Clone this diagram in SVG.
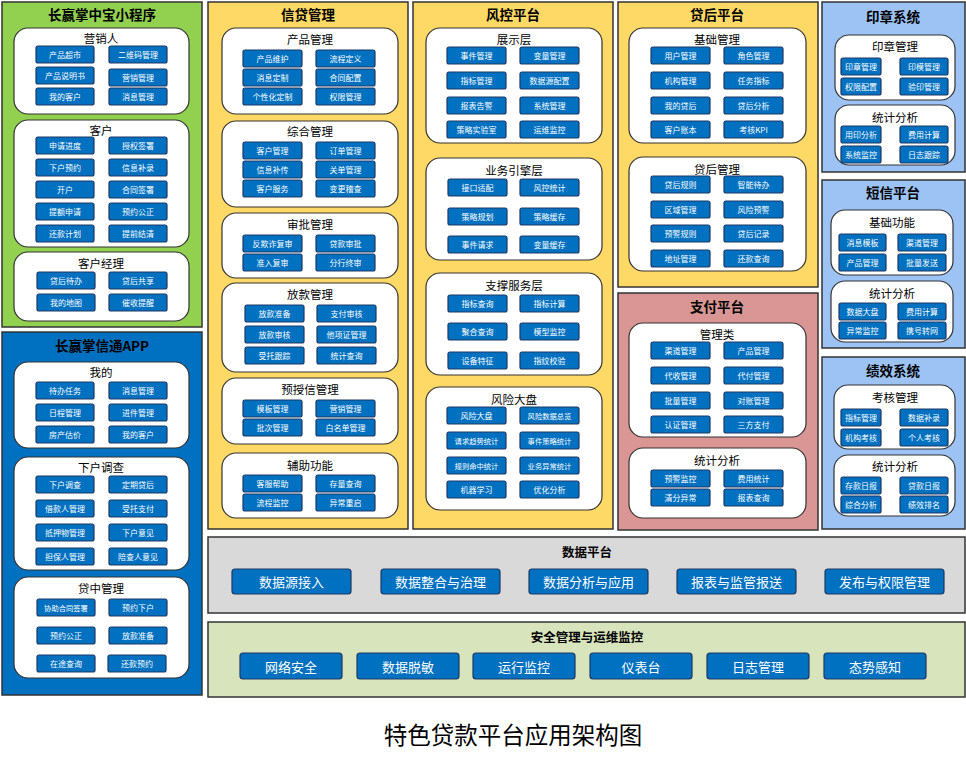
<svg xmlns="http://www.w3.org/2000/svg" width="966" height="759" viewBox="0 0 966 759">
<style>
text{font-family:"Noto Sans CJK SC","Microsoft YaHei",sans-serif;text-anchor:middle;dominant-baseline:central}
.pan{stroke:#333;stroke-width:1.5}
.pt{font-size:13.5px;font-weight:bold;fill:#000}
.sp{fill:#fff;stroke:#333;stroke-width:1.2}
.st{font-size:11.5px;fill:#000}
.b{fill:#0070C0;stroke:#1F3864;stroke-width:1.2}
.bt{font-size:8px;fill:#fff}
.bs{font-size:7.3px;fill:#fff}
.bl{font-size:13px;fill:#fff}
</style>
<rect width="966" height="759" fill="#fff"/>
<g id="connectors"/>

<!-- 长赢掌中宝小程序 -->
<g id="p-miniapp">
<rect class="pan" x="2" y="2" width="200" height="325" fill="#92D050"/>
<text class="pt" x="102" y="14">长赢掌中宝小程序</text>
<g id="s-yxr"><rect class="sp" x="14" y="28" width="175" height="86" rx="14"/><text class="st" x="101" y="38">营销人</text>
<g id="m1"><rect class="b" x="36" y="46" width="58" height="17" rx="2"/><text class="bt" x="65" y="54.5">产品超市</text></g>
<g id="m2"><rect class="b" x="109" y="46" width="58" height="17" rx="2"/><text class="bt" x="138" y="54.5">二维码管理</text></g>
<g id="m3"><rect class="b" x="36" y="67" width="58" height="17" rx="2"/><text class="bt" x="65" y="75.5">产品说明书</text></g>
<g id="m4"><rect class="b" x="109" y="69" width="58" height="17" rx="2"/><text class="bt" x="138" y="77.5">营销管理</text></g>
<g id="m5"><rect class="b" x="36" y="88" width="58" height="17" rx="2"/><text class="bt" x="65" y="96.5">我的客户</text></g>
<g id="m6"><rect class="b" x="109" y="88" width="58" height="17" rx="2"/><text class="bt" x="138" y="96.5">消息管理</text></g>
</g>
<g id="s-kh"><rect class="sp" x="14" y="120" width="175" height="127" rx="14"/><text class="st" x="101" y="130">客户</text>
<g id="m7"><rect class="b" x="36" y="137" width="58" height="17" rx="2"/><text class="bt" x="65" y="145.5">申请进度</text></g>
<g id="m8"><rect class="b" x="109" y="137" width="58" height="17" rx="2"/><text class="bt" x="138" y="145.5">授权签署</text></g>
<g id="m9"><rect class="b" x="36" y="159" width="58" height="17" rx="2"/><text class="bt" x="65" y="167.5">下户预约</text></g>
<g id="m10"><rect class="b" x="109" y="159" width="58" height="17" rx="2"/><text class="bt" x="138" y="167.5">信息补录</text></g>
<g id="m11"><rect class="b" x="36" y="181" width="58" height="17" rx="2"/><text class="bt" x="65" y="189.5">开户</text></g>
<g id="m12"><rect class="b" x="109" y="181" width="58" height="17" rx="2"/><text class="bt" x="138" y="189.5">合同签署</text></g>
<g id="m13"><rect class="b" x="36" y="203" width="58" height="17" rx="2"/><text class="bt" x="65" y="211.5">提额申请</text></g>
<g id="m14"><rect class="b" x="109" y="203" width="58" height="17" rx="2"/><text class="bt" x="138" y="211.5">预约公正</text></g>
<g id="m15"><rect class="b" x="36" y="225" width="58" height="17" rx="2"/><text class="bt" x="65" y="233.5">还款计划</text></g>
<g id="m16"><rect class="b" x="109" y="225" width="58" height="17" rx="2"/><text class="bt" x="138" y="233.5">提前结清</text></g>
</g>
<g id="s-khjl"><rect class="sp" x="14" y="252" width="175" height="69" rx="14"/><text class="st" x="101" y="263">客户经理</text>
<g id="m17"><rect class="b" x="37" y="272" width="58" height="17" rx="2"/><text class="bt" x="66" y="280.5">贷后待办</text></g>
<g id="m18"><rect class="b" x="109" y="272" width="58" height="17" rx="2"/><text class="bt" x="138" y="280.5">贷后共享</text></g>
<g id="m19"><rect class="b" x="37" y="294" width="58" height="17" rx="2"/><text class="bt" x="66" y="302.5">我的地图</text></g>
<g id="m20"><rect class="b" x="109" y="294" width="58" height="17" rx="2"/><text class="bt" x="138" y="302.5">催收提醒</text></g>
</g>
</g>

<!-- 长赢掌信通APP -->
<g id="p-app">
<rect class="pan" x="2" y="332" width="200" height="363" fill="#0070C0" stroke="#1F3864"/>
<text class="pt" x="102" y="345">长赢掌信通APP</text>
<g id="s-wd"><rect class="sp" x="14" y="362" width="175" height="86" rx="14"/><text class="st" x="101" y="372">我的</text>
<g id="a1"><rect class="b" x="36" y="382" width="58" height="17" rx="2"/><text class="bt" x="65" y="390.5">待办任务</text></g>
<g id="a2"><rect class="b" x="109" y="382" width="58" height="17" rx="2"/><text class="bt" x="138" y="390.5">消息管理</text></g>
<g id="a3"><rect class="b" x="36" y="404" width="58" height="17" rx="2"/><text class="bt" x="65" y="412.5">日程管理</text></g>
<g id="a4"><rect class="b" x="109" y="404" width="58" height="17" rx="2"/><text class="bt" x="138" y="412.5">进件管理</text></g>
<g id="a5"><rect class="b" x="36" y="426" width="58" height="17" rx="2"/><text class="bt" x="65" y="434.5">房产估价</text></g>
<g id="a6"><rect class="b" x="109" y="426" width="58" height="17" rx="2"/><text class="bt" x="138" y="434.5">我的客户</text></g>
</g>
<g id="s-xhdc"><rect class="sp" x="14" y="457" width="175" height="113" rx="14"/><text class="st" x="101" y="467">下户调查</text>
<g id="a7"><rect class="b" x="36" y="476" width="58" height="17" rx="2"/><text class="bt" x="65" y="484.5">下户调查</text></g>
<g id="a8"><rect class="b" x="109" y="476" width="58" height="17" rx="2"/><text class="bt" x="138" y="484.5">定期贷后</text></g>
<g id="a9"><rect class="b" x="36" y="500" width="58" height="17" rx="2"/><text class="bt" x="65" y="508.5">借款人管理</text></g>
<g id="a10"><rect class="b" x="109" y="500" width="58" height="17" rx="2"/><text class="bt" x="138" y="508.5">受托支付</text></g>
<g id="a11"><rect class="b" x="36" y="524" width="58" height="17" rx="2"/><text class="bt" x="65" y="532.5">抵押物管理</text></g>
<g id="a12"><rect class="b" x="109" y="524" width="58" height="17" rx="2"/><text class="bt" x="138" y="532.5">下户意见</text></g>
<g id="a13"><rect class="b" x="36" y="548" width="58" height="17" rx="2"/><text class="bt" x="65" y="556.5">担保人管理</text></g>
<g id="a14"><rect class="b" x="109" y="548" width="58" height="17" rx="2"/><text class="bt" x="138" y="556.5">陪查人意见</text></g>
</g>
<g id="s-dzgl"><rect class="sp" x="14" y="577" width="175" height="101" rx="14"/><text class="st" x="101" y="588">贷中管理</text>
<g id="a15"><rect class="b" x="37" y="599" width="58" height="17" rx="2"/><text class="bs" x="66" y="607.5">协助合同签署</text></g>
<g id="a16"><rect class="b" x="109" y="599" width="58" height="17" rx="2"/><text class="bt" x="138" y="607.5">预约下户</text></g>
<g id="a17"><rect class="b" x="37" y="627" width="58" height="17" rx="2"/><text class="bt" x="66" y="635.5">预约公正</text></g>
<g id="a18"><rect class="b" x="109" y="627" width="58" height="17" rx="2"/><text class="bt" x="138" y="635.5">放款准备</text></g>
<g id="a19"><rect class="b" x="37" y="655" width="58" height="17" rx="2"/><text class="bt" x="66" y="663.5">在途查询</text></g>
<g id="a20"><rect class="b" x="108" y="655" width="58" height="17" rx="2"/><text class="bt" x="137" y="663.5">还款预约</text></g>
</g>
</g>

<!-- 信贷管理 -->
<g id="p-xdgl">
<rect class="pan" x="208" y="2" width="200" height="527" fill="#FFD966"/>
<text class="pt" x="308" y="14">信贷管理</text>
<g id="s-cpgl"><rect class="sp" x="222" y="28" width="176" height="86" rx="14"/><text class="st" x="310" y="39">产品管理</text>
<g id="x1"><rect class="b" x="243" y="50" width="59" height="17" rx="2"/><text class="bt" x="272.5" y="58.5">产品维护</text></g>
<g id="x2"><rect class="b" x="316" y="50" width="59" height="17" rx="2"/><text class="bt" x="345.5" y="58.5">流程定义</text></g>
<g id="x3"><rect class="b" x="243" y="69" width="59" height="17" rx="2"/><text class="bt" x="272.5" y="77.5">消息定制</text></g>
<g id="x4"><rect class="b" x="316" y="69" width="59" height="17" rx="2"/><text class="bt" x="345.5" y="77.5">合同配置</text></g>
<g id="x5"><rect class="b" x="243" y="88" width="59" height="17" rx="2"/><text class="bt" x="272.5" y="96.5">个性化定制</text></g>
<g id="x6"><rect class="b" x="316" y="88" width="59" height="17" rx="2"/><text class="bt" x="345.5" y="96.5">权限管理</text></g>
</g>
<g id="s-zhgl"><rect class="sp" x="222" y="121" width="176" height="86" rx="14"/><text class="st" x="310" y="131">综合管理</text>
<g id="x7"><rect class="b" x="243" y="142" width="59" height="17" rx="2"/><text class="bt" x="272.5" y="150.5">客户管理</text></g>
<g id="x8"><rect class="b" x="316" y="142" width="59" height="17" rx="2"/><text class="bt" x="345.5" y="150.5">订单管理</text></g>
<g id="x9"><rect class="b" x="243" y="161" width="59" height="17" rx="2"/><text class="bt" x="272.5" y="169.5">信息补传</text></g>
<g id="x10"><rect class="b" x="316" y="161" width="59" height="17" rx="2"/><text class="bt" x="345.5" y="169.5">关单管理</text></g>
<g id="x11"><rect class="b" x="243" y="180" width="59" height="17" rx="2"/><text class="bt" x="272.5" y="188.5">客户服务</text></g>
<g id="x12"><rect class="b" x="316" y="180" width="59" height="17" rx="2"/><text class="bt" x="345.5" y="188.5">变更稽查</text></g>
</g>
<g id="s-spgl"><rect class="sp" x="222" y="213" width="176" height="65" rx="14"/><text class="st" x="310" y="224">审批管理</text>
<g id="x13"><rect class="b" x="243" y="235" width="59" height="17" rx="2"/><text class="bt" x="272.5" y="243.5">反欺诈复审</text></g>
<g id="x14"><rect class="b" x="316" y="235" width="59" height="17" rx="2"/><text class="bt" x="345.5" y="243.5">贷款审批</text></g>
<g id="x15"><rect class="b" x="243" y="254" width="59" height="17" rx="2"/><text class="bt" x="272.5" y="262.5">准入复审</text></g>
<g id="x16"><rect class="b" x="316" y="254" width="59" height="17" rx="2"/><text class="bt" x="345.5" y="262.5">分行终审</text></g>
</g>
<g id="s-fkgl"><rect class="sp" x="222" y="283" width="176" height="89" rx="14"/><text class="st" x="310" y="294">放款管理</text>
<g id="x17"><rect class="b" x="245" y="305" width="59" height="17" rx="2"/><text class="bt" x="274.5" y="313.5">放款准备</text></g>
<g id="x18"><rect class="b" x="317" y="305" width="59" height="17" rx="2"/><text class="bt" x="346.5" y="313.5">支付审核</text></g>
<g id="x19"><rect class="b" x="245" y="326" width="59" height="17" rx="2"/><text class="bt" x="274.5" y="334.5">放款审核</text></g>
<g id="x20"><rect class="b" x="317" y="326" width="59" height="17" rx="2"/><text class="bt" x="346.5" y="334.5">他项证管理</text></g>
<g id="x21"><rect class="b" x="245" y="347" width="59" height="17" rx="2"/><text class="bt" x="274.5" y="355.5">受托跟踪</text></g>
<g id="x22"><rect class="b" x="317" y="347" width="59" height="17" rx="2"/><text class="bt" x="346.5" y="355.5">统计查询</text></g>
</g>
<g id="s-ysx"><rect class="sp" x="222" y="378" width="176" height="66" rx="14"/><text class="st" x="310" y="389">预授信管理</text>
<g id="x23"><rect class="b" x="243" y="400" width="59" height="17" rx="2"/><text class="bt" x="272.5" y="408.5">模板管理</text></g>
<g id="x24"><rect class="b" x="316" y="400" width="59" height="17" rx="2"/><text class="bt" x="345.5" y="408.5">营销管理</text></g>
<g id="x25"><rect class="b" x="243" y="419" width="59" height="17" rx="2"/><text class="bt" x="272.5" y="427.5">批次管理</text></g>
<g id="x26"><rect class="b" x="316" y="419" width="59" height="17" rx="2"/><text class="bt" x="345.5" y="427.5">白名单管理</text></g>
</g>
<g id="s-fzgn"><rect class="sp" x="222" y="453" width="176" height="65" rx="14"/><text class="st" x="310" y="465">辅助功能</text>
<g id="x27"><rect class="b" x="243" y="475" width="59" height="17" rx="2"/><text class="bt" x="272.5" y="483.5">客服帮助</text></g>
<g id="x28"><rect class="b" x="316" y="475" width="59" height="17" rx="2"/><text class="bt" x="345.5" y="483.5">存量查询</text></g>
<g id="x29"><rect class="b" x="243" y="494" width="59" height="17" rx="2"/><text class="bt" x="272.5" y="502.5">流程监控</text></g>
<g id="x30"><rect class="b" x="316" y="494" width="59" height="17" rx="2"/><text class="bt" x="345.5" y="502.5">异常重启</text></g>
</g>
</g>

<!-- 风控平台 -->
<g id="p-fk">
<rect class="pan" x="413" y="2" width="200" height="527" fill="#FFD966"/>
<text class="pt" x="513" y="14">风控平台</text>
<g id="s-zsc"><rect class="sp" x="426" y="28" width="176" height="115" rx="14"/><text class="st" x="514" y="39">展示层</text>
<g id="f1"><rect class="b" x="447" y="47" width="59" height="17" rx="2"/><text class="bt" x="476.5" y="55.5">事件管理</text></g>
<g id="f2"><rect class="b" x="520" y="47" width="59" height="17" rx="2"/><text class="bt" x="549.5" y="55.5">变量管理</text></g>
<g id="f3"><rect class="b" x="447" y="72" width="59" height="17" rx="2"/><text class="bt" x="476.5" y="80.5">指标管理</text></g>
<g id="f4"><rect class="b" x="520" y="72" width="59" height="17" rx="2"/><text class="bt" x="549.5" y="80.5">数据源配置</text></g>
<g id="f5"><rect class="b" x="447" y="97" width="59" height="17" rx="2"/><text class="bt" x="476.5" y="105.5">报表告警</text></g>
<g id="f6"><rect class="b" x="520" y="97" width="59" height="17" rx="2"/><text class="bt" x="549.5" y="105.5">系统管理</text></g>
<g id="f7"><rect class="b" x="447" y="121" width="59" height="17" rx="2"/><text class="bt" x="476.5" y="129.5">策略实验室</text></g>
<g id="f8"><rect class="b" x="520" y="121" width="59" height="17" rx="2"/><text class="bt" x="549.5" y="129.5">运维监控</text></g>
</g>
<g id="s-ywyq"><rect class="sp" x="426" y="158" width="176" height="102" rx="14"/><text class="st" x="514" y="170">业务引擎层</text>
<g id="f9"><rect class="b" x="448" y="179" width="59" height="17" rx="2"/><text class="bt" x="477.5" y="187.5">接口适配</text></g>
<g id="f10"><rect class="b" x="520" y="179" width="59" height="17" rx="2"/><text class="bt" x="549.5" y="187.5">风控统计</text></g>
<g id="f11"><rect class="b" x="448" y="208" width="59" height="17" rx="2"/><text class="bt" x="477.5" y="216.5">策略规划</text></g>
<g id="f12"><rect class="b" x="520" y="208" width="59" height="17" rx="2"/><text class="bt" x="549.5" y="216.5">策略缓存</text></g>
<g id="f13"><rect class="b" x="448" y="236" width="59" height="17" rx="2"/><text class="bt" x="477.5" y="244.5">事件请求</text></g>
<g id="f14"><rect class="b" x="520" y="236" width="59" height="17" rx="2"/><text class="bt" x="549.5" y="244.5">变量缓存</text></g>
</g>
<g id="s-zcfw"><rect class="sp" x="426" y="273" width="176" height="102" rx="14"/><text class="st" x="514" y="285">支撑服务层</text>
<g id="f15"><rect class="b" x="448" y="295" width="59" height="17" rx="2"/><text class="bt" x="477.5" y="303.5">指标查询</text></g>
<g id="f16"><rect class="b" x="520" y="295" width="59" height="17" rx="2"/><text class="bt" x="549.5" y="303.5">指标计算</text></g>
<g id="f17"><rect class="b" x="448" y="323" width="59" height="17" rx="2"/><text class="bt" x="477.5" y="331.5">聚合查询</text></g>
<g id="f18"><rect class="b" x="520" y="323" width="59" height="17" rx="2"/><text class="bt" x="549.5" y="331.5">模型监控</text></g>
<g id="f19"><rect class="b" x="448" y="352" width="59" height="17" rx="2"/><text class="bt" x="477.5" y="360.5">设备特征</text></g>
<g id="f20"><rect class="b" x="520" y="352" width="59" height="17" rx="2"/><text class="bt" x="549.5" y="360.5">指纹校验</text></g>
</g>
<g id="s-fxdp"><rect class="sp" x="426" y="387" width="176" height="123" rx="14"/><text class="st" x="514" y="399">风险大盘</text>
<g id="f21"><rect class="b" x="447" y="407" width="59" height="17" rx="2"/><text class="bt" x="476.5" y="415.5">风险大盘</text></g>
<g id="f22"><rect class="b" x="520" y="407" width="59" height="17" rx="2"/><text class="bs" x="549.5" y="415.5">风险数据总览</text></g>
<g id="f23"><rect class="b" x="447" y="432" width="59" height="17" rx="2"/><text class="bs" x="476.5" y="440.5">请求趋势统计</text></g>
<g id="f24"><rect class="b" x="520" y="432" width="59" height="17" rx="2"/><text class="bs" x="549.5" y="440.5">事件策略统计</text></g>
<g id="f25"><rect class="b" x="447" y="457" width="59" height="17" rx="2"/><text class="bs" x="476.5" y="465.5">规则命中统计</text></g>
<g id="f26"><rect class="b" x="520" y="457" width="59" height="17" rx="2"/><text class="bs" x="549.5" y="465.5">业务异常统计</text></g>
<g id="f27"><rect class="b" x="447" y="481" width="59" height="17" rx="2"/><text class="bt" x="476.5" y="489.5">机器学习</text></g>
<g id="f28"><rect class="b" x="520" y="481" width="59" height="17" rx="2"/><text class="bt" x="549.5" y="489.5">优化分析</text></g>
</g>
</g>

<!-- 贷后平台 -->
<g id="p-dh">
<rect class="pan" x="618" y="2" width="200" height="285" fill="#FFD966"/>
<text class="pt" x="717" y="14">贷后平台</text>
<g id="s-jcgl"><rect class="sp" x="629" y="28" width="177" height="115" rx="14"/><text class="st" x="717" y="39">基础管理</text>
<g id="d1"><rect class="b" x="651" y="47" width="59" height="17" rx="2"/><text class="bt" x="680.5" y="55.5">用户管理</text></g>
<g id="d2"><rect class="b" x="724" y="47" width="59" height="17" rx="2"/><text class="bt" x="753.5" y="55.5">角色管理</text></g>
<g id="d3"><rect class="b" x="651" y="72" width="59" height="17" rx="2"/><text class="bt" x="680.5" y="80.5">机构管理</text></g>
<g id="d4"><rect class="b" x="724" y="72" width="59" height="17" rx="2"/><text class="bt" x="753.5" y="80.5">任务指标</text></g>
<g id="d5"><rect class="b" x="651" y="97" width="59" height="17" rx="2"/><text class="bt" x="680.5" y="105.5">我的贷后</text></g>
<g id="d6"><rect class="b" x="724" y="97" width="59" height="17" rx="2"/><text class="bt" x="753.5" y="105.5">贷后分析</text></g>
<g id="d7"><rect class="b" x="651" y="121" width="59" height="17" rx="2"/><text class="bt" x="680.5" y="129.5">客户账本</text></g>
<g id="d8"><rect class="b" x="724" y="121" width="59" height="17" rx="2"/><text class="bt" x="753.5" y="129.5">考核KPI</text></g>
</g>
<g id="s-dhgl"><rect class="sp" x="629" y="157" width="177" height="114" rx="14"/><text class="st" x="717" y="169">贷后管理</text>
<g id="d9"><rect class="b" x="651" y="176" width="59" height="17" rx="2"/><text class="bt" x="680.5" y="184.5">贷后规则</text></g>
<g id="d10"><rect class="b" x="724" y="176" width="59" height="17" rx="2"/><text class="bt" x="753.5" y="184.5">智能待办</text></g>
<g id="d11"><rect class="b" x="651" y="201" width="59" height="17" rx="2"/><text class="bt" x="680.5" y="209.5">区域管理</text></g>
<g id="d12"><rect class="b" x="724" y="201" width="59" height="17" rx="2"/><text class="bt" x="753.5" y="209.5">风险预警</text></g>
<g id="d13"><rect class="b" x="651" y="225" width="59" height="17" rx="2"/><text class="bt" x="680.5" y="233.5">预警规则</text></g>
<g id="d14"><rect class="b" x="724" y="225" width="59" height="17" rx="2"/><text class="bt" x="753.5" y="233.5">贷后记录</text></g>
<g id="d15"><rect class="b" x="651" y="250" width="59" height="17" rx="2"/><text class="bt" x="680.5" y="258.5">地址管理</text></g>
<g id="d16"><rect class="b" x="724" y="250" width="59" height="17" rx="2"/><text class="bt" x="753.5" y="258.5">还款查询</text></g>
</g>
</g>

<!-- 支付平台 -->
<g id="p-zf">
<rect class="pan" x="618" y="293" width="200" height="237" fill="#D99694"/>
<text class="pt" x="717" y="306">支付平台</text>
<g id="s-gll"><rect class="sp" x="629" y="323" width="177" height="114" rx="14"/><text class="st" x="717" y="334">管理类</text>
<g id="z1"><rect class="b" x="651" y="342" width="59" height="17" rx="2"/><text class="bt" x="680.5" y="350.5">渠道管理</text></g>
<g id="z2"><rect class="b" x="724" y="342" width="59" height="17" rx="2"/><text class="bt" x="753.5" y="350.5">产品管理</text></g>
<g id="z3"><rect class="b" x="651" y="367" width="59" height="17" rx="2"/><text class="bt" x="680.5" y="375.5">代收管理</text></g>
<g id="z4"><rect class="b" x="724" y="367" width="59" height="17" rx="2"/><text class="bt" x="753.5" y="375.5">代付管理</text></g>
<g id="z5"><rect class="b" x="651" y="392" width="59" height="17" rx="2"/><text class="bt" x="680.5" y="400.5">批量管理</text></g>
<g id="z6"><rect class="b" x="724" y="392" width="59" height="17" rx="2"/><text class="bt" x="753.5" y="400.5">对账管理</text></g>
<g id="z7"><rect class="b" x="651" y="416" width="59" height="17" rx="2"/><text class="bt" x="680.5" y="424.5">认证管理</text></g>
<g id="z8"><rect class="b" x="724" y="416" width="59" height="17" rx="2"/><text class="bt" x="753.5" y="424.5">三方支付</text></g>
</g>
<g id="s-zftj"><rect class="sp" x="629" y="448" width="177" height="70" rx="14"/><text class="st" x="717" y="460">统计分析</text>
<g id="z9"><rect class="b" x="651" y="470" width="59" height="17" rx="2"/><text class="bt" x="680.5" y="478.5">预警监控</text></g>
<g id="z10"><rect class="b" x="724" y="470" width="59" height="17" rx="2"/><text class="bt" x="753.5" y="478.5">费用统计</text></g>
<g id="z11"><rect class="b" x="651" y="489" width="59" height="17" rx="2"/><text class="bt" x="680.5" y="497.5">清分异常</text></g>
<g id="z12"><rect class="b" x="724" y="489" width="59" height="17" rx="2"/><text class="bt" x="753.5" y="497.5">报表查询</text></g>
</g>
</g>

<!-- 印章系统 -->
<g id="p-yz">
<rect class="pan" x="822" y="2" width="143" height="170" fill="#9DC3F5"/>
<text class="pt" x="893" y="16">印章系统</text>
<g id="s-yzgl"><rect class="sp" x="835" y="35" width="120" height="65" rx="14"/><text class="st" x="895" y="46">印章管理</text>
<g id="y1"><rect class="b" x="841" y="58" width="40" height="17" rx="2"/><text class="bt" x="861" y="66.5">印章管理</text></g>
<g id="y2"><rect class="b" x="900" y="58" width="48" height="17" rx="2"/><text class="bt" x="924" y="66.5">印模管理</text></g>
<g id="y3"><rect class="b" x="841" y="78" width="40" height="17" rx="2"/><text class="bt" x="861" y="86.5">权限配置</text></g>
<g id="y4"><rect class="b" x="900" y="78" width="48" height="17" rx="2"/><text class="bt" x="924" y="86.5">验印管理</text></g>
</g>
<g id="s-yztj"><rect class="sp" x="835" y="105" width="120" height="60" rx="14"/><text class="st" x="895" y="117">统计分析</text>
<g id="y5"><rect class="b" x="841" y="126" width="40" height="17" rx="2"/><text class="bt" x="861" y="134.5">用印分析</text></g>
<g id="y6"><rect class="b" x="900" y="126" width="48" height="17" rx="2"/><text class="bt" x="924" y="134.5">费用计算</text></g>
<g id="y7"><rect class="b" x="841" y="146" width="40" height="17" rx="2"/><text class="bt" x="861" y="154.5">系统监控</text></g>
<g id="y8"><rect class="b" x="900" y="146" width="48" height="17" rx="2"/><text class="bt" x="924" y="154.5">日志跟踪</text></g>
</g>
</g>

<!-- 短信平台 -->
<g id="p-dx">
<rect class="pan" x="822" y="180" width="143" height="168" fill="#9DC3F5"/>
<text class="pt" x="893" y="192">短信平台</text>
<g id="s-jcgn"><rect class="sp" x="831" y="210" width="122" height="65" rx="14"/><text class="st" x="892" y="222">基础功能</text>
<g id="s1"><rect class="b" x="839" y="234" width="47" height="17" rx="2"/><text class="bt" x="862.5" y="242.5">消息模板</text></g>
<g id="s2"><rect class="b" x="898" y="234" width="48" height="17" rx="2"/><text class="bt" x="922" y="242.5">渠道管理</text></g>
<g id="s3"><rect class="b" x="839" y="254" width="47" height="17" rx="2"/><text class="bt" x="862.5" y="262.5">产品管理</text></g>
<g id="s4"><rect class="b" x="898" y="254" width="48" height="17" rx="2"/><text class="bt" x="922" y="262.5">批量发送</text></g>
</g>
<g id="s-dxtj"><rect class="sp" x="831" y="281" width="122" height="61" rx="14"/><text class="st" x="892" y="293">统计分析</text>
<g id="s5"><rect class="b" x="839" y="303" width="47" height="17" rx="2"/><text class="bt" x="862.5" y="311.5">数据大盘</text></g>
<g id="s6"><rect class="b" x="898" y="303" width="48" height="17" rx="2"/><text class="bt" x="922" y="311.5">费用计算</text></g>
<g id="s7"><rect class="b" x="839" y="322" width="47" height="17" rx="2"/><text class="bt" x="862.5" y="330.5">异常监控</text></g>
<g id="s8"><rect class="b" x="898" y="322" width="48" height="17" rx="2"/><text class="bt" x="922" y="330.5">携号转网</text></g>
</g>
</g>

<!-- 绩效系统 -->
<g id="p-jx">
<rect class="pan" x="822" y="357" width="143" height="172" fill="#9DC3F5"/>
<text class="pt" x="893" y="370">绩效系统</text>
<g id="s-khgl"><rect class="sp" x="834" y="385" width="121" height="64" rx="14"/><text class="st" x="895" y="397">考核管理</text>
<g id="j1"><rect class="b" x="841" y="409" width="40" height="17" rx="2"/><text class="bt" x="861" y="417.5">指标管理</text></g>
<g id="j2"><rect class="b" x="900" y="409" width="48" height="17" rx="2"/><text class="bt" x="924" y="417.5">数据补录</text></g>
<g id="j3"><rect class="b" x="841" y="429" width="40" height="17" rx="2"/><text class="bt" x="861" y="437.5">机构考核</text></g>
<g id="j4"><rect class="b" x="900" y="429" width="48" height="17" rx="2"/><text class="bt" x="924" y="437.5">个人考核</text></g>
</g>
<g id="s-jxtj"><rect class="sp" x="834" y="455" width="121" height="61" rx="14"/><text class="st" x="895" y="466">统计分析</text>
<g id="j5"><rect class="b" x="841" y="477" width="40" height="17" rx="2"/><text class="bt" x="861" y="485.5">存款日报</text></g>
<g id="j6"><rect class="b" x="900" y="477" width="48" height="17" rx="2"/><text class="bt" x="924" y="485.5">贷款日报</text></g>
<g id="j7"><rect class="b" x="841" y="496" width="40" height="17" rx="2"/><text class="bt" x="861" y="504.5">综合分析</text></g>
<g id="j8"><rect class="b" x="900" y="496" width="48" height="17" rx="2"/><text class="bt" x="924" y="504.5">绩效排名</text></g>
</g>
</g>

<!-- 数据平台 -->
<g id="p-sj">
<rect class="pan" x="208" y="537" width="757" height="76" fill="#D9D9D9"/>
<text class="pt" x="587" y="551" style="font-size:12.5px">数据平台</text>
<g id="sj1"><rect class="b" x="232" y="569" width="119" height="25" rx="3"/><text class="bl" x="291.5" y="581.5">数据源接入</text></g>
<g id="sj2"><rect class="b" x="381" y="569" width="119" height="25" rx="3"/><text class="bl" x="440.5" y="581.5">数据整合与治理</text></g>
<g id="sj3"><rect class="b" x="529" y="569" width="119" height="25" rx="3"/><text class="bl" x="588.5" y="581.5">数据分析与应用</text></g>
<g id="sj4"><rect class="b" x="677" y="569" width="119" height="25" rx="3"/><text class="bl" x="736.5" y="581.5">报表与监管报送</text></g>
<g id="sj5"><rect class="b" x="825" y="569" width="119" height="25" rx="3"/><text class="bl" x="884.5" y="581.5">发布与权限管理</text></g>
</g>

<!-- 安全管理与运维监控 -->
<g id="p-aq">
<rect class="pan" x="208" y="622" width="757" height="75" fill="#D8E4BC"/>
<text class="pt" x="587" y="636" style="font-size:12.5px">安全管理与运维监控</text>
<g id="aq1"><rect class="b" x="240" y="653" width="102" height="26" rx="3"/><text class="bl" x="291" y="666">网络安全</text></g>
<g id="aq2"><rect class="b" x="357" y="653" width="102" height="26" rx="3"/><text class="bl" x="408" y="666">数据脱敏</text></g>
<g id="aq3"><rect class="b" x="473" y="653" width="102" height="26" rx="3"/><text class="bl" x="524" y="666">运行监控</text></g>
<g id="aq4"><rect class="b" x="590" y="653" width="102" height="26" rx="3"/><text class="bl" x="641" y="666">仪表台</text></g>
<g id="aq5"><rect class="b" x="707" y="653" width="102" height="26" rx="3"/><text class="bl" x="758" y="666">日志管理</text></g>
<g id="aq6"><rect class="b" x="824" y="653" width="102" height="26" rx="3"/><text class="bl" x="875" y="666">态势感知</text></g>
</g>

<text id="caption" x="513" y="734" style="font-size:23.5px;fill:#000">特色贷款平台应用架构图</text>
</svg>
